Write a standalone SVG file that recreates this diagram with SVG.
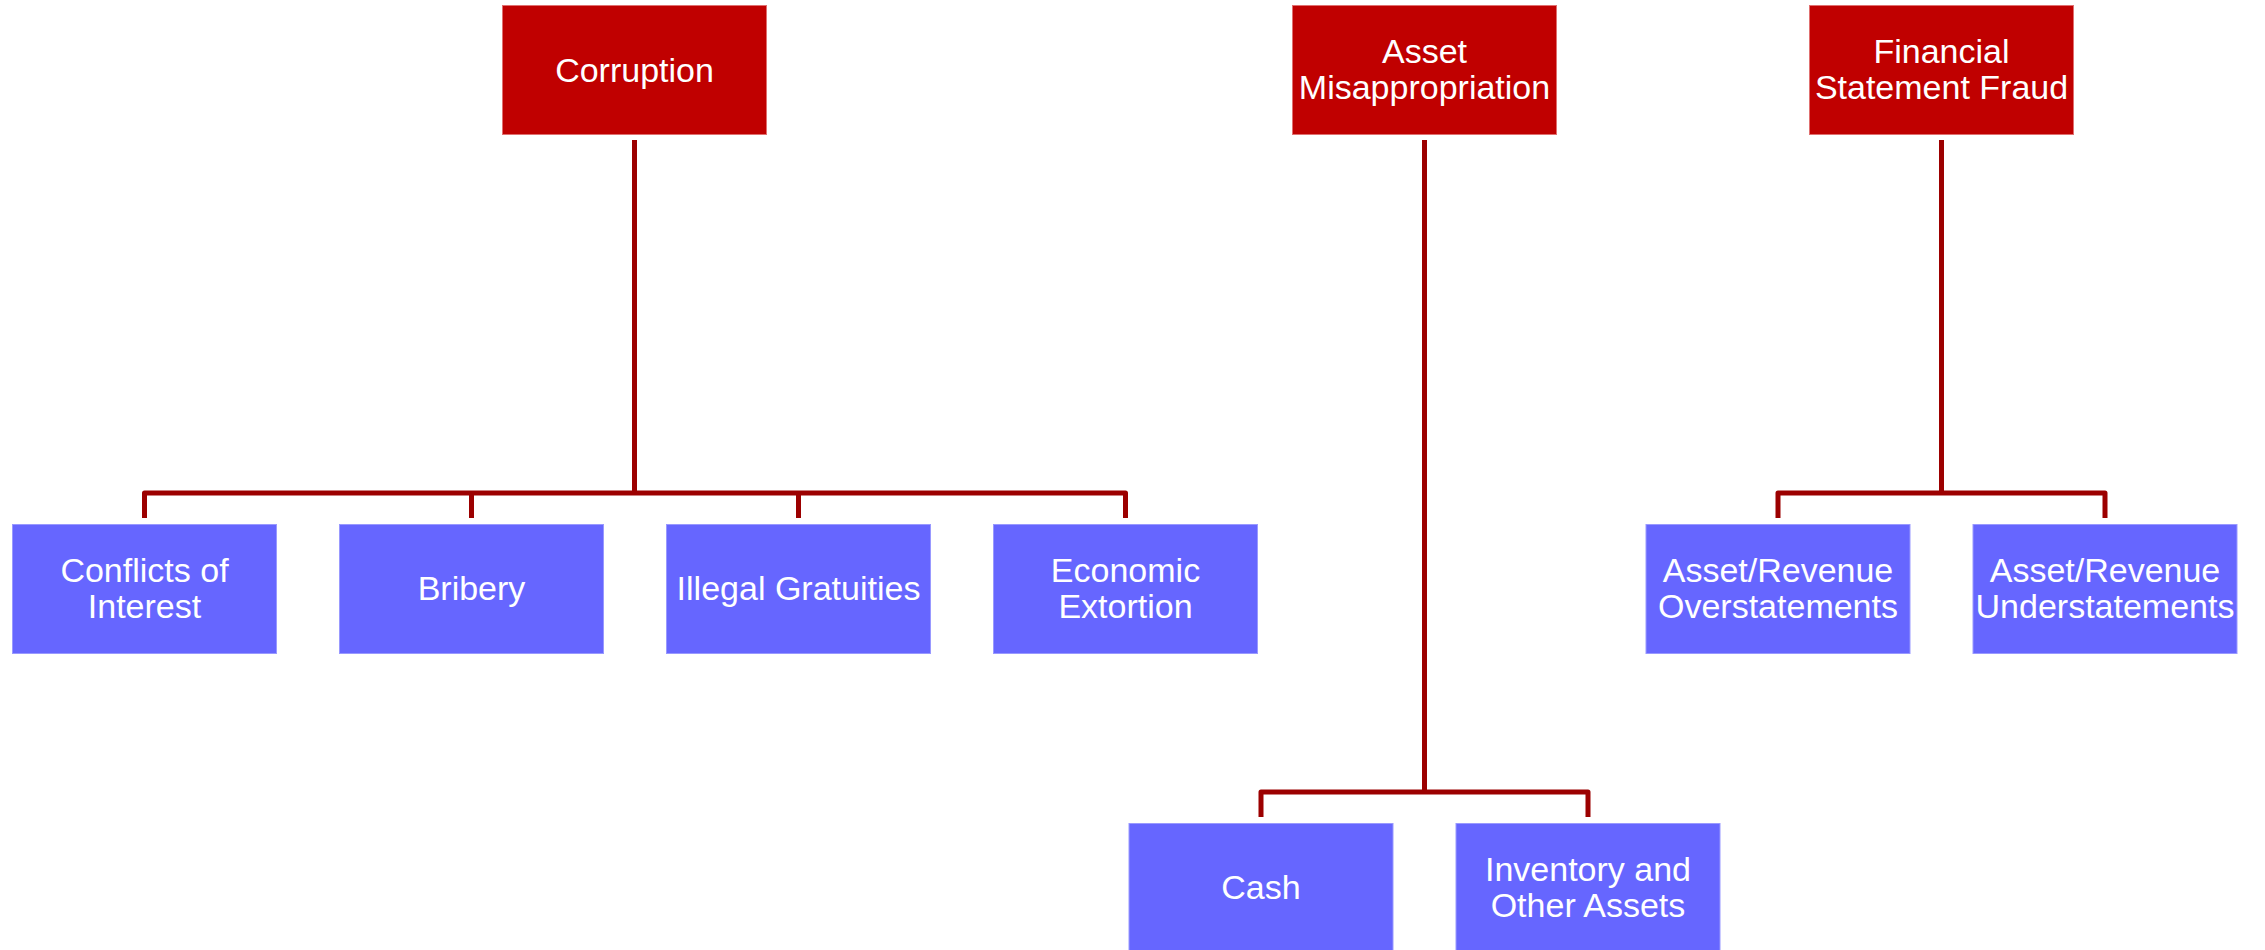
<svg xmlns="http://www.w3.org/2000/svg" width="2265" height="950" viewBox="0 0 2265 950">
  <style>
    .top rect { fill: #C00000; stroke: #E07070; stroke-width: 1; }
    .sub rect { fill: #6666FF; stroke: #9999FF; stroke-width: 1; }
    text { font-family: "Liberation Sans", Arial, sans-serif; font-size: 34px; fill: #FFFFFF; text-anchor: middle; }
    .conn path { fill: none; stroke: #9C0000; stroke-width: 5; stroke-linejoin: round; stroke-linecap: butt; }
  </style>
  <rect x="0" y="0" width="2265" height="950" fill="#FFFFFF"/>

  <g class="conn" id="connectors">
    <path d="M634.5 140 V493"/>
    <path d="M144.5 518 V493 H1125.5 V518"/>
    <path d="M471.5 493 V518"/>
    <path d="M798.5 493 V518"/>
    <path d="M1424.5 140 V792"/>
    <path d="M1261 817 V792 H1588 V817"/>
    <path d="M1941.5 140 V493"/>
    <path d="M1778 518 V493 H2105 V518"/>
  </g>

  <g id="corruption" class="top">
    <rect x="502.5" y="5.5" width="264" height="129"/>
    <text x="634.5" y="82">Corruption</text>
  </g>
  <g id="asset-misappropriation" class="top">
    <rect x="1292.5" y="5.5" width="264" height="129"/>
    <text x="1424.5" y="63">Asset</text>
    <text x="1424.5" y="99">Misappropriation</text>
  </g>
  <g id="financial-statement-fraud" class="top">
    <rect x="1809.5" y="5.5" width="264" height="129"/>
    <text x="1941.5" y="63">Financial</text>
    <text x="1941.5" y="99">Statement Fraud</text>
  </g>

  <g id="conflicts-of-interest" class="sub">
    <rect x="12.5" y="524.5" width="264" height="129"/>
    <text x="144.5" y="582">Conflicts of</text>
    <text x="144.5" y="618">Interest</text>
  </g>
  <g id="bribery" class="sub">
    <rect x="339.5" y="524.5" width="264" height="129"/>
    <text x="471.5" y="600">Bribery</text>
  </g>
  <g id="illegal-gratuities" class="sub">
    <rect x="666.5" y="524.5" width="264" height="129"/>
    <text x="798.5" y="600">Illegal Gratuities</text>
  </g>
  <g id="economic-extortion" class="sub">
    <rect x="993.5" y="524.5" width="264" height="129"/>
    <text x="1125.5" y="582">Economic</text>
    <text x="1125.5" y="618">Extortion</text>
  </g>

  <g id="cash" class="sub">
    <rect x="1129" y="823.5" width="264" height="129"/>
    <text x="1261" y="899">Cash</text>
  </g>
  <g id="inventory-and-other-assets" class="sub">
    <rect x="1456" y="823.5" width="264" height="129"/>
    <text x="1588" y="881">Inventory and</text>
    <text x="1588" y="917">Other Assets</text>
  </g>

  <g id="asset-revenue-overstatements" class="sub">
    <rect x="1646" y="524.5" width="264" height="129"/>
    <text x="1778" y="582">Asset/Revenue</text>
    <text x="1778" y="618">Overstatements</text>
  </g>
  <g id="asset-revenue-understatements" class="sub">
    <rect x="1973" y="524.5" width="264" height="129"/>
    <text x="2105" y="582">Asset/Revenue</text>
    <text x="2105" y="618">Understatements</text>
  </g>
</svg>
